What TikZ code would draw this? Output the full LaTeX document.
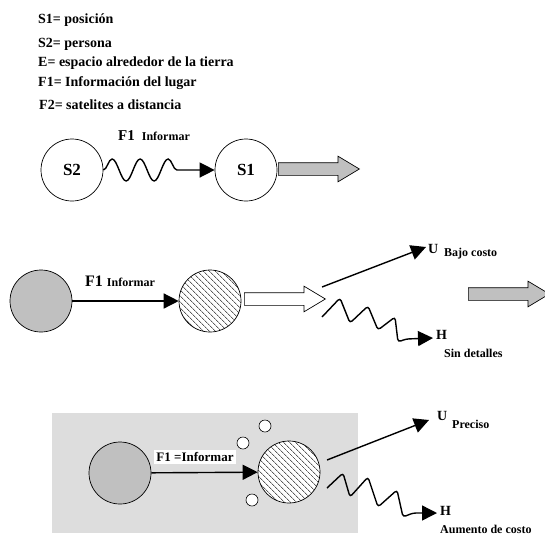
\documentclass[tikz,border=0pt]{standalone}
\usepackage{fontspec}
\setmainfont{Liberation Serif}
\usetikzlibrary{arrows.meta,positioning,decorations.pathmorphing,patterns.meta,shapes.arrows}
\definecolor{discgrey}{RGB}{192,192,192}
\definecolor{panelgrey}{RGB}{221,221,221}
\tikzset{
  legend/.style={anchor=base west,font=\fontsize{14}{16}\selectfont\bfseries,inner sep=0pt},
  disc/.style={draw,circle,minimum size=62pt,inner sep=0pt,line width=0.7pt,
               font=\fontsize{17}{19}\selectfont\bfseries},
  discf/.style={disc,fill=discgrey},
  disch/.style={disc,preaction={fill=white},
                pattern={Lines[angle=-45,distance=4pt,line width=0.6pt]}},
  bubble/.style={draw,circle,fill=white,minimum size=12pt,inner sep=0pt,line width=0.6pt},
  bigarrow/.style={single arrow,draw,anchor=tail,minimum height=81pt,minimum width=25pt,
                   inner xsep=0pt,inner ysep=6pt,text height=0pt,text depth=0pt,
                   single arrow head extend=6.5pt,single arrow tip angle=62,line width=0.7pt},
  flow/.style={-{Triangle[length=15pt,width=15pt]},line width=1.4pt},
  wave/.style={flow,decorate,decoration={snake,amplitude=11pt,segment length=28pt,post length=27pt}},
  zig/.style={flow,rounded corners=3pt},
  lblbig/.style={anchor=base west,inner sep=0pt,font=\fontsize{15}{17}\selectfont\bfseries},
  lblsmall/.style={anchor=base west,inner sep=0pt,font=\fontsize{12}{14}\selectfont\bfseries},
}
\newcommand{\smalltxt}[1]{{\fontsize{12}{14}\selectfont #1}}
\begin{document}
\begin{tikzpicture}[x=1pt,y=-1pt]
  \path[use as bounding box] (0,0) rectangle (545,536);
  \clip (0,0) rectangle (545,536);

  % legend
  \node[legend] (leg1) at (38,23)  {S1= posición};
  \node[legend] (leg2) at (38,47)  {S2= persona};
  \node[legend] (leg3) at (38,66)  {E= espacio alrededor de la tierra};
  \node[legend] (leg4) at (38,86)  {F1= Información del lugar};
  \node[legend] (leg5) at (39,109) {F2= satelites a distancia};

  % first row
  \node[disc] (s2) at (72,170)  {S2};
  \node[disc] (s1) at (246,170) {S1};
  \draw[wave] (s2) -- (s1);
  \node[lblbig] (inf1) at (118,140) {F1\hspace{7pt}\smalltxt{Informar}};
  \node[bigarrow,fill=discgrey] (next1) at (278,169) {};

  % second row
  \node[discf] (g1) at (41,301)  {};
  \node[disch] (h1) at (210,301) {};
  \draw[flow] (g1) -- (h1);
  \node[lblbig,font=\fontsize{16}{18}\selectfont\bfseries] (inf2) at (85,286)
        {F1\hspace{4pt}\smalltxt{Informar}};
  \node[bigarrow,fill=white] (out1) at (244,299) {};
  \node[bigarrow,fill=discgrey] (next2) at (468,294) {};

  \coordinate (u1s) at (322,287);
  \coordinate (u1e) at (426,247);
  \draw[flow] (u1s) -- (u1e);
  \node[lblbig,font=\fontsize{14}{16}\selectfont\bfseries] (u1) at (428,253) {U};
  \node[lblsmall] (u1sub) at (444,256) {Bajo costo};

  \coordinate (h1s) at (322,317);
  \coordinate (h1e) at (433,338);
  \draw[zig] (h1s) -- ++(18,-19) -- ++(10,25) -- ++(18,-17) -- ++(10,24)
        -- ++(17,-13) -- ++(3,25) -- ++(8,-3) -- (h1e);
  \node[lblbig,font=\fontsize{14}{16}\selectfont\bfseries] (hh1) at (436,339) {H};
  \node[lblsmall] (hh1sub) at (444,357) {Sin detalles};

  % third row
  \node[fill=panelgrey,minimum width=306pt,minimum height=120pt,inner sep=0pt] (panel) at (205,473) {};
  \node[discf] (g2) at (120,473) {};
  \node[disch] (h2) at (289,472) {};
  \draw[flow] (g2) -- (h2);
  \node[fill=white,inner sep=2.5pt,font=\fontsize{13}{15}\selectfont\bfseries] (inf3) at (195,457)
        {F1 =Informar};
  \node[bubble] (b1) at (265,426) {};
  \node[bubble] (b2) at (243,443) {};
  \node[bubble] (b3) at (252,500) {};

  \coordinate (u2s) at (327,460);
  \coordinate (u2e) at (429,420);
  \draw[flow] (u2s) -- (u2e);
  \node[lblbig,font=\fontsize{14}{16}\selectfont\bfseries] (u2) at (437,420) {U};
  \node[lblsmall] (u2sub) at (452,428) {Preciso};

  \coordinate (h2s) at (327,488);
  \coordinate (h2e) at (437,513);
  \draw[zig] (h2s) -- ++(16,-15) -- ++(7,24) -- ++(18,-20) -- ++(10,30)
        -- ++(19,-17) -- ++(6,27) -- ++(10,-4) -- (h2e);
  \node[lblbig,font=\fontsize{14}{16}\selectfont\bfseries] (hh2) at (440,515) {H};
  \node[lblsmall] (hh2sub) at (440,533) {Aumento de costo};
\end{tikzpicture}
\end{document}
